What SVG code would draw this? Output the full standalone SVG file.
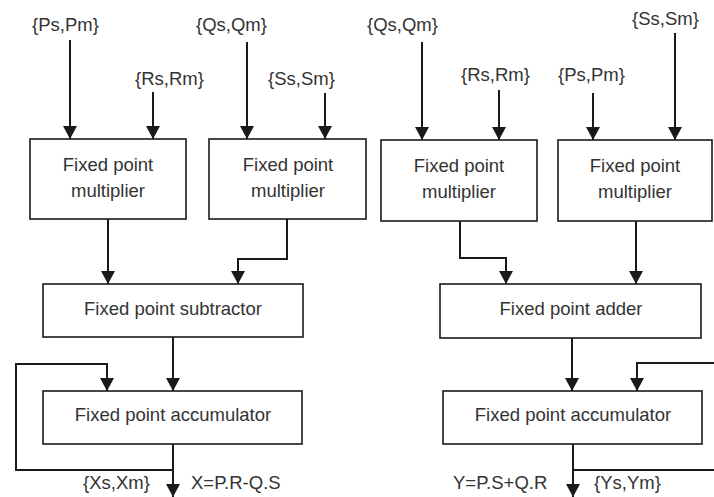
<svg xmlns="http://www.w3.org/2000/svg" width="714" height="497" viewBox="0 0 714 497">
<defs>
<marker id="ah" viewBox="0 0 13 14" refX="13" refY="7" markerWidth="13" markerHeight="14" markerUnits="userSpaceOnUse" orient="auto">
<path d="M0,0 L13,7 L0,14 z" fill="#1a1a1a"/>
</marker>
<style>
.box{fill:#fff;stroke:#1a1a1a;stroke-width:1.6}
.t{font-family:"Liberation Sans",Arial,sans-serif;font-size:18.5px;fill:#333;text-anchor:middle}
.l{font-family:"Liberation Sans",Arial,sans-serif;font-size:18.5px;fill:#333}
.c{fill:none;stroke:#1a1a1a;stroke-width:2}
.a{marker-end:url(#ah)}
</style>
</defs>
<rect width="714" height="497" fill="#fff"/>
<g id="connectors">
<path class="c a" d="M70,40 V139"/>
<path class="c a" d="M153,92 V139"/>
<path class="c a" d="M247,42 V139"/>
<path class="c a" d="M325,93 V139"/>
<path class="c a" d="M422,42 V140"/>
<path class="c a" d="M499,90 V140"/>
<path class="c a" d="M593,93 V140"/>
<path class="c a" d="M675,33 V140"/>
<path class="c a" d="M108,219 V284"/>
<path class="c a" d="M287,219 V259 H238 V284"/>
<path class="c a" d="M460,221 V258 H506 V284"/>
<path class="c a" d="M636,221 V284"/>
<path class="c a" d="M173,337 V391"/>
<path class="c a" d="M173,470 H16 V364 H107 V391"/>
<path class="c a" d="M173,444 V497"/>
<path class="c a" d="M572,338 V391"/>
<path class="c a" d="M714,363 H637 V391"/>
<path class="c" d="M573,470 H714"/>
<path class="c a" d="M573,444 V497"/>
</g>
<g id="labels">
<text class="l" x="32" y="31">{Ps,Pm}</text>
<text class="l" x="135" y="85">{Rs,Rm}</text>
<text class="l" x="196" y="31">{Qs,Qm}</text>
<text class="l" x="268" y="85">{Ss,Sm}</text>
<text class="l" x="367" y="31">{Qs,Qm}</text>
<text class="l" x="461" y="81">{Rs,Rm}</text>
<text class="l" x="558" y="81">{Ps,Pm}</text>
<text class="l" x="632" y="25">{Ss,Sm}</text>
<text class="l" x="83" y="489">{Xs,Xm}</text>
<text class="l" x="191" y="489">X=P.R-Q.S</text>
<text class="l" x="453" y="489">Y=P.S+Q.R</text>
<text class="l" x="594" y="489">{Ys,Ym}</text>
</g>
<g id="mult1">
<rect class="box" x="30" y="139" width="156" height="80"/>
<text class="t" x="108" y="171">Fixed point</text>
<text class="t" x="108" y="197">multiplier</text>
</g>
<g id="mult2">
<rect class="box" x="209" y="139" width="157" height="80"/>
<text class="t" x="288" y="171">Fixed point</text>
<text class="t" x="288" y="197">multiplier</text>
</g>
<g id="mult3">
<rect class="box" x="381" y="140" width="156" height="81"/>
<text class="t" x="459" y="172">Fixed point</text>
<text class="t" x="459" y="198">multiplier</text>
</g>
<g id="mult4">
<rect class="box" x="558" y="140" width="154" height="81"/>
<text class="t" x="635" y="172">Fixed point</text>
<text class="t" x="635" y="198">multiplier</text>
</g>
<g id="subtractor">
<rect class="box" x="43" y="284" width="260" height="53"/>
<text class="t" x="173" y="315">Fixed point subtractor</text>
</g>
<g id="adder">
<rect class="box" x="440" y="284" width="261" height="54"/>
<text class="t" x="571" y="315">Fixed point adder</text>
</g>
<g id="acc1">
<rect class="box" x="43" y="391" width="259" height="53"/>
<text class="t" x="173" y="421">Fixed point accumulator</text>
</g>
<g id="acc2">
<rect class="box" x="443" y="391" width="259" height="53"/>
<text class="t" x="573" y="421">Fixed point accumulator</text>
</g>
</svg>
